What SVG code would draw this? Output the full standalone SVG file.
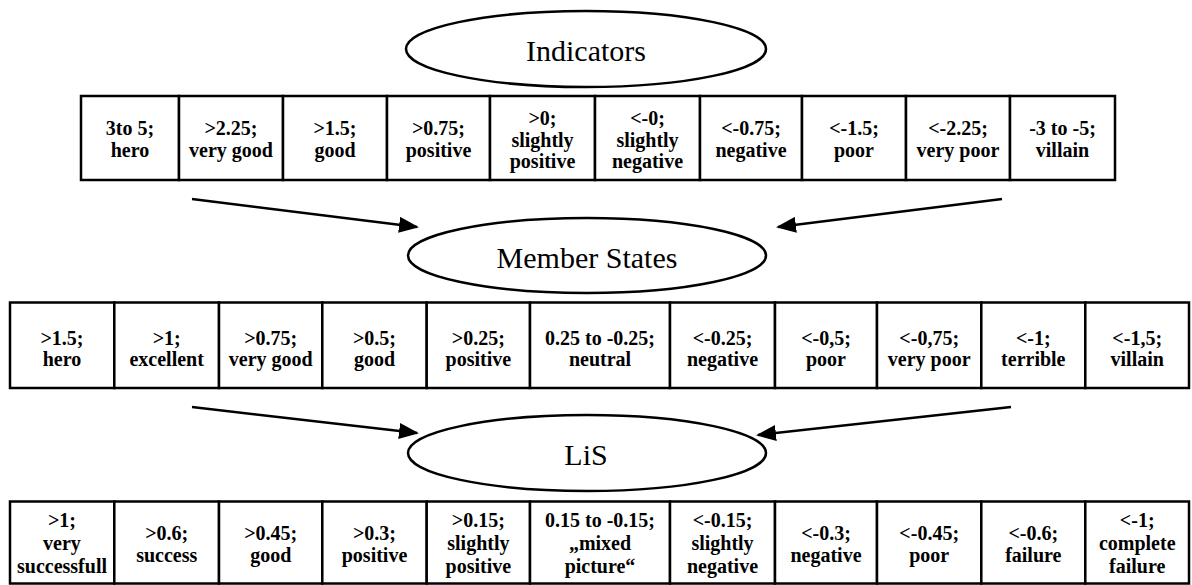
<svg xmlns="http://www.w3.org/2000/svg" width="1192" height="585" viewBox="0 0 1192 585">
<defs>
<style>
.cell{fill:#fff;stroke:#000;stroke-width:2.5}
.ell{fill:#fff;stroke:#000;stroke-width:2.5}
.t{font-family:"Liberation Serif","Times New Roman",serif;font-weight:bold;font-size:20px;text-anchor:middle;fill:#000}
.title{font-family:"Liberation Serif","Times New Roman",serif;font-size:30px;text-anchor:middle;fill:#000}
.conn{stroke:#000;stroke-width:2.5;fill:none}
</style>
<marker id="arr" markerUnits="userSpaceOnUse" markerWidth="22" markerHeight="16" refX="18" refY="8" orient="auto">
<path d="M0,0 L20,8 L0,16 z" fill="#000"/>
</marker>
</defs>
<rect width="1192" height="585" fill="#fff"/>

<g id="connectors">
<line class="conn" x1="192" y1="199" x2="417" y2="227" marker-end="url(#arr)"/>
<line class="conn" x1="1002" y1="199" x2="778" y2="227" marker-end="url(#arr)"/>
<line class="conn" x1="192" y1="407" x2="417" y2="433" marker-end="url(#arr)"/>
<line class="conn" x1="1011" y1="407" x2="758" y2="435" marker-end="url(#arr)"/>
</g>

<g id="indicators">
<ellipse class="ell" cx="586" cy="49" rx="180" ry="38"/>
<text class="title" x="586" y="61">Indicators</text>
</g>
<g id="member-states">
<ellipse class="ell" cx="587" cy="255.5" rx="179" ry="37.5"/>
<text class="title" x="587" y="268">Member States</text>
</g>
<g id="lis">
<ellipse class="ell" cx="587" cy="453" rx="179" ry="38"/>
<text class="title" x="586" y="465">LiS</text>
</g>

<g id="indicator-scale">
<g id="i1"><rect class="cell" x="81" y="96" width="98" height="84"/><text class="t" x="130" y="135">3to 5;</text><text class="t" x="130" y="157">hero</text></g>
<g id="i2"><rect class="cell" x="179" y="96" width="104" height="84"/><text class="t" x="231" y="135">&gt;2.25;</text><text class="t" x="231" y="157">very good</text></g>
<g id="i3"><rect class="cell" x="283" y="96" width="104" height="84"/><text class="t" x="335" y="135">&gt;1.5;</text><text class="t" x="335" y="157">good</text></g>
<g id="i4"><rect class="cell" x="387" y="96" width="103" height="84"/><text class="t" x="438.5" y="135">&gt;0.75;</text><text class="t" x="438.5" y="157">positive</text></g>
<g id="i5"><rect class="cell" x="490" y="96" width="105" height="84"/><text class="t" x="542.5" y="125">&gt;0;</text><text class="t" x="542.5" y="146.5">slightly</text><text class="t" x="542.5" y="168">positive</text></g>
<g id="i6"><rect class="cell" x="595" y="96" width="105" height="84"/><text class="t" x="647.5" y="125">&lt;-0;</text><text class="t" x="647.5" y="146.5">slightly</text><text class="t" x="647.5" y="168">negative</text></g>
<g id="i7"><rect class="cell" x="700" y="96" width="102" height="84"/><text class="t" x="751" y="135">&lt;-0.75;</text><text class="t" x="751" y="157">negative</text></g>
<g id="i8"><rect class="cell" x="802" y="96" width="104" height="84"/><text class="t" x="854" y="135">&lt;-1.5;</text><text class="t" x="854" y="157">poor</text></g>
<g id="i9"><rect class="cell" x="906" y="96" width="104" height="84"/><text class="t" x="958" y="135">&lt;-2.25;</text><text class="t" x="958" y="157">very poor</text></g>
<g id="i10"><rect class="cell" x="1010" y="96" width="105" height="84"/><text class="t" x="1062.5" y="135">-3 to -5;</text><text class="t" x="1062.5" y="157">villain</text></g>
</g>

<g id="member-scale">
<g id="m1"><rect class="cell" x="10" y="302.5" width="104.3" height="85.5"/><text class="t" x="62" y="345">&gt;1.5;</text><text class="t" x="62" y="366">hero</text></g>
<g id="m2"><rect class="cell" x="114.3" y="302.5" width="104.7" height="85.5"/><text class="t" x="166.7" y="345">&gt;1;</text><text class="t" x="166.7" y="366">excellent</text></g>
<g id="m3"><rect class="cell" x="219" y="302.5" width="103.3" height="85.5"/><text class="t" x="270.7" y="345">&gt;0.75;</text><text class="t" x="270.7" y="366">very good</text></g>
<g id="m4"><rect class="cell" x="322.3" y="302.5" width="104.4" height="85.5"/><text class="t" x="374.5" y="345">&gt;0.5;</text><text class="t" x="374.5" y="366">good</text></g>
<g id="m5"><rect class="cell" x="426.7" y="302.5" width="103.3" height="85.5"/><text class="t" x="478.4" y="345">&gt;0.25;</text><text class="t" x="478.4" y="366">positive</text></g>
<g id="m6"><rect class="cell" x="530" y="302.5" width="140" height="85.5"/><text class="t" x="600" y="345">0.25 to -0.25;</text><text class="t" x="600" y="366">neutral</text></g>
<g id="m7"><rect class="cell" x="670" y="302.5" width="105" height="85.5"/><text class="t" x="722.5" y="345">&lt;-0.25;</text><text class="t" x="722.5" y="366">negative</text></g>
<g id="m8"><rect class="cell" x="775" y="302.5" width="102" height="85.5"/><text class="t" x="826" y="345">&lt;-0,5;</text><text class="t" x="826" y="366">poor</text></g>
<g id="m9"><rect class="cell" x="877" y="302.5" width="104.3" height="85.5"/><text class="t" x="929.2" y="345">&lt;-0,75;</text><text class="t" x="929.2" y="366">very poor</text></g>
<g id="m10"><rect class="cell" x="981.3" y="302.5" width="104" height="85.5"/><text class="t" x="1033.3" y="345">&lt;-1;</text><text class="t" x="1033.3" y="366">terrible</text></g>
<g id="m11"><rect class="cell" x="1085.3" y="302.5" width="103.7" height="85.5"/><text class="t" x="1137.2" y="345">&lt;-1,5;</text><text class="t" x="1137.2" y="366">villain</text></g>
</g>

<g id="lis-scale">
<g id="l1"><rect class="cell" x="10" y="501.5" width="104.3" height="82"/><text class="t" x="62" y="527">&gt;1;</text><text class="t" x="62" y="550">very</text><text class="t" x="62" y="573">successfull</text></g>
<g id="l2"><rect class="cell" x="114.3" y="501.5" width="104.7" height="82"/><text class="t" x="166.7" y="540">&gt;0.6;</text><text class="t" x="166.7" y="562">success</text></g>
<g id="l3"><rect class="cell" x="219" y="501.5" width="103.3" height="82"/><text class="t" x="270.7" y="540">&gt;0.45;</text><text class="t" x="270.7" y="562">good</text></g>
<g id="l4"><rect class="cell" x="322.3" y="501.5" width="104.4" height="82"/><text class="t" x="374.5" y="540">&gt;0.3;</text><text class="t" x="374.5" y="562">positive</text></g>
<g id="l5"><rect class="cell" x="426.7" y="501.5" width="103.3" height="82"/><text class="t" x="478.4" y="527">&gt;0.15;</text><text class="t" x="478.4" y="550">slightly</text><text class="t" x="478.4" y="573">positive</text></g>
<g id="l6"><rect class="cell" x="530" y="501.5" width="140" height="82"/><text class="t" x="600" y="527">0.15 to -0.15;</text><text class="t" x="600" y="550">„mixed</text><text class="t" x="600" y="573">picture“</text></g>
<g id="l7"><rect class="cell" x="670" y="501.5" width="105" height="82"/><text class="t" x="722.5" y="527">&lt;-0.15;</text><text class="t" x="722.5" y="550">slightly</text><text class="t" x="722.5" y="573">negative</text></g>
<g id="l8"><rect class="cell" x="775" y="501.5" width="102" height="82"/><text class="t" x="826" y="540">&lt;-0.3;</text><text class="t" x="826" y="562">negative</text></g>
<g id="l9"><rect class="cell" x="877" y="501.5" width="104.3" height="82"/><text class="t" x="929.2" y="540">&lt;-0.45;</text><text class="t" x="929.2" y="562">poor</text></g>
<g id="l10"><rect class="cell" x="981.3" y="501.5" width="104" height="82"/><text class="t" x="1033.3" y="540">&lt;-0.6;</text><text class="t" x="1033.3" y="562">failure</text></g>
<g id="l11"><rect class="cell" x="1085.3" y="501.5" width="103.7" height="82"/><text class="t" x="1137.2" y="527">&lt;-1;</text><text class="t" x="1137.2" y="550">complete</text><text class="t" x="1137.2" y="573">failure</text></g>
</g>
</svg>
